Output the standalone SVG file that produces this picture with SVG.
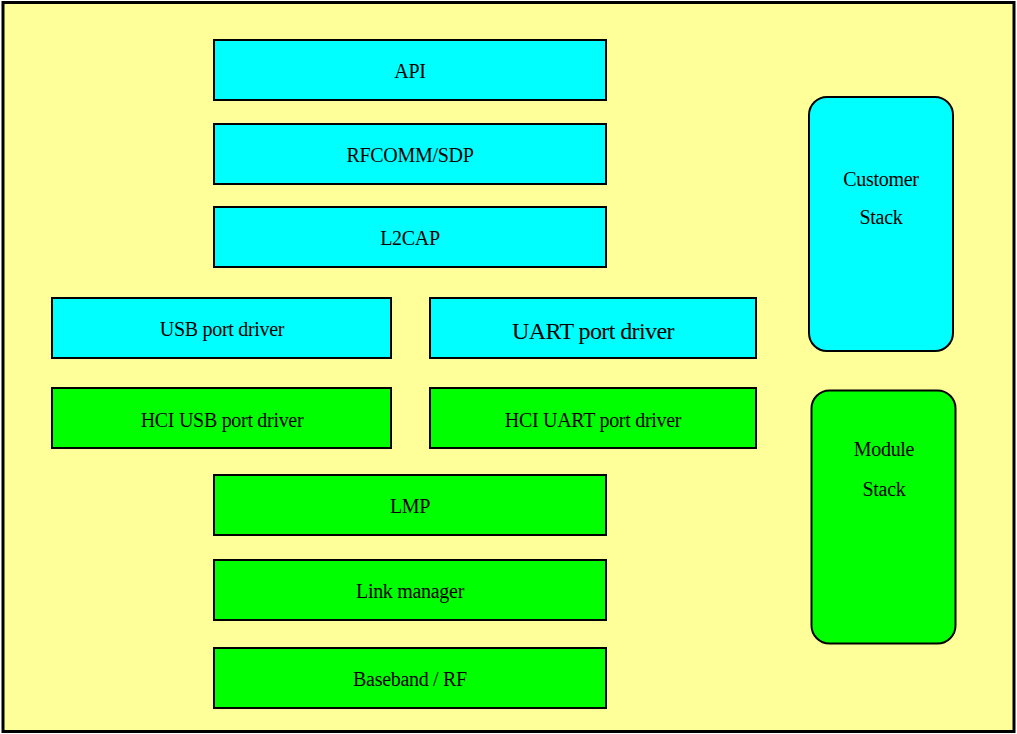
<svg xmlns="http://www.w3.org/2000/svg" width="1017" height="734" viewBox="0 0 1017 734">
<style>
.bx{stroke:#000;stroke-width:2}
.c{fill:#00FFFF}
.g{fill:#00FF00}
text{font-family:"Liberation Serif","Times New Roman",serif;font-size:20px;letter-spacing:-0.3px;fill:#000;text-anchor:middle;dominant-baseline:central}
.big{font-size:24px;letter-spacing:-0.6px}
</style>
<rect x="3" y="2.5" width="1011" height="729" fill="#FFFF99" stroke="#000" stroke-width="3"/>
<g id="connectors"/>
<g id="api"><rect class="bx c" x="214" y="40" width="392" height="60"/><text x="410" y="71">API</text></g>
<g id="rfcomm"><rect class="bx c" x="214" y="124" width="392" height="60"/><text x="410" y="155">RFCOMM/SDP</text></g>
<g id="l2cap"><rect class="bx c" x="214" y="207" width="392" height="60"/><text x="410" y="238">L2CAP</text></g>
<g id="usb"><rect class="bx c" x="52" y="298" width="339" height="60"/><text x="222" y="329">USB port driver</text></g>
<g id="uart"><rect class="bx c" x="430" y="298" width="326" height="60"/><text class="big" x="593" y="331">UART port driver</text></g>
<g id="hciusb"><rect class="bx g" x="52" y="388" width="339" height="60"/><text x="222" y="419.5">HCI USB port driver</text></g>
<g id="hciuart"><rect class="bx g" x="430" y="388" width="326" height="60"/><text x="593" y="419.5">HCI UART port driver</text></g>
<g id="lmp"><rect class="bx g" x="214" y="475" width="392" height="60"/><text x="410" y="506">LMP</text></g>
<g id="linkmgr"><rect class="bx g" x="214" y="560" width="392" height="60"/><text x="410" y="591">Link manager</text></g>
<g id="baseband"><rect class="bx g" x="214" y="648" width="392" height="60"/><text x="410" y="679">Baseband / RF</text></g>
<g id="customer"><rect class="bx c" x="809" y="97" width="144" height="254" rx="18"/><text x="881" y="179">Customer</text><text x="881" y="217">Stack</text></g>
<g id="module"><rect class="bx g" x="811.5" y="390.5" width="144" height="253" rx="18"/><text x="884" y="448.5">Module</text><text x="884" y="488.5">Stack</text></g>
</svg>
